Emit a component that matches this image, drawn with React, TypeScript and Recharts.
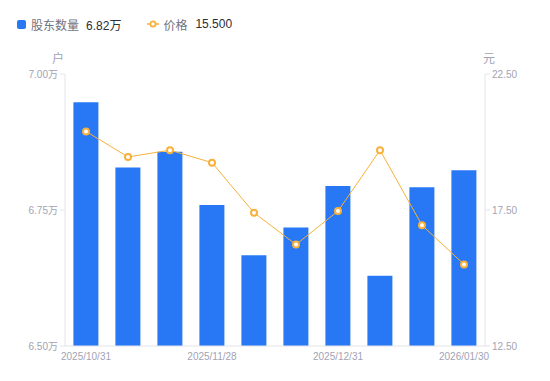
import {
  ComposedChart,
  Bar,
  Line,
  XAxis,
  YAxis,
} from 'recharts'

const dates = [
  '2025/10/31',
  '2025/11/10',
  '2025/11/20',
  '2025/11/28',
  '2025/12/10',
  '2025/12/19',
  '2025/12/31',
  '2026/01/09',
  '2026/01/20',
  '2026/01/30',
]
// 股东数量, in 万户
const holders = [6.948, 6.828, 6.857, 6.759, 6.667, 6.718, 6.794, 6.629, 6.792, 6.823]
// 价格, in 元
const prices = [20.39, 19.45, 19.7, 19.24, 17.4, 16.23, 17.46, 19.7, 16.94, 15.5]

const leftTicks = [6.5, 6.75, 7.0]
const rightTicks = [12.5, 17.5, 22.5]

const data = dates.map((date, i) => ({ date, holders: holders[i], price: prices[i] }))

const FONT = '"Liberation Sans", Arial, "Noto Sans CJK SC", sans-serif'
const BLUE = '#2878f5'
const ORANGE = '#f7b13c'
const TICK = '#a2a3b4'
const AXIS = '#e3e4ea'

function TopLegend() {
  const last = data[data.length - 1]
  return (
    <div
      style={{
        position: 'absolute',
        left: 17,
        top: 14,
        display: 'flex',
        alignItems: 'center',
        fontSize: 12,
        fontFamily: FONT,
        height: 20,
      }}
    >
      <span style={{ width: 9, height: 9, background: BLUE, borderRadius: 2, display: 'inline-block', marginRight: 5 }} />
      <span style={{ color: '#70737f' }}>股东数量</span>
      <span style={{ color: '#2c2e36', marginLeft: 7 }}>{last.holders.toFixed(2)}万</span>
      <svg width={12} height={10} style={{ marginLeft: 26, marginRight: 4 }}>
        <line x1={0} y1={5} x2={12} y2={5} stroke={ORANGE} strokeWidth={1.5} />
        <circle cx={6} cy={5} r={2.6} fill="#fff" stroke={ORANGE} strokeWidth={1.8} />
      </svg>
      <span style={{ color: '#70737f' }}>价格</span>
      <span style={{ color: '#2c2e36', marginLeft: 8 }}>{last.price.toFixed(3)}</span>
    </div>
  )
}

export default function App() {
  return (
    <div style={{ position: 'absolute', left: 0, top: 0, width: 550, height: 381, fontFamily: FONT }}>
      <ComposedChart
        width={550}
        height={381}
        data={data}
        margin={{ top: 74, right: 0, left: 0, bottom: 0 }}
        barCategoryGap="20%"
      >
        <XAxis
          dataKey="date"
          height={35}
          interval={2}
          tickLine={false}
          tickSize={5}
          axisLine={{ stroke: AXIS }}
          tick={{ fill: TICK, fontSize: 10 }}
        />
        <YAxis
          yAxisId="left"
          width={65}
          domain={[6.5, 7.0]}
          ticks={leftTicks}
          tickSize={5}
          axisLine={{ stroke: AXIS }}
          tickLine={{ stroke: AXIS }}
          tick={{ fill: TICK, fontSize: 10 }}
          tickFormatter={(v: number) => `${v.toFixed(2)}万`}
        />
        <YAxis
          yAxisId="right"
          orientation="right"
          width={65}
          domain={[12.5, 22.5]}
          ticks={rightTicks}
          tickSize={5}
          axisLine={{ stroke: AXIS }}
          tickLine={{ stroke: AXIS }}
          tick={{ fill: TICK, fontSize: 10 }}
          tickFormatter={(v: number) => v.toFixed(2)}
        />
        <Bar yAxisId="left" dataKey="holders" fill={BLUE} isAnimationActive={false} />
        <Line
          yAxisId="right"
          dataKey="price"
          stroke={ORANGE}
          strokeWidth={1}
          dot={{ r: 3, fill: '#fff', stroke: ORANGE, strokeWidth: 2 }}
          isAnimationActive={false}
        />
      </ComposedChart>
      <TopLegend />
      <span style={{ position: 'absolute', left: 52, top: 49, fontSize: 12, color: TICK }}>户</span>
      <span style={{ position: 'absolute', left: 483, top: 49, fontSize: 12, color: TICK }}>元</span>
    </div>
  )
}
